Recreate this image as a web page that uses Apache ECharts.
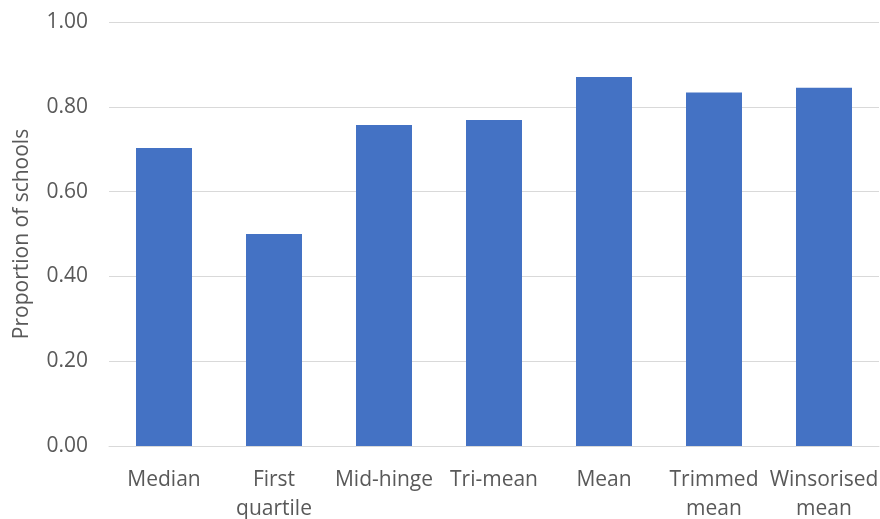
<!DOCTYPE html>
<html>
<head>
<meta charset="utf-8">
<script src="https://cdn.jsdelivr.net/npm/echarts@6/dist/echarts.min.js"></script>
<style>
  html, body { margin: 0; padding: 0; background: #fff; }
  #chart { width: 880px; height: 519px; }
</style>
</head>
<body>
<div id="chart"></div>
<script>
// Estimators compared, with the share of schools for each
const categories = ['Median', 'First\nquartile', 'Mid-hinge', 'Tri-mean', 'Mean', 'Trimmed\nmean', 'Winsorised\nmean'];
const proportions = [0.703, 0.500, 0.757, 0.769, 0.870, 0.834, 0.845];
const yTicks = { min: 0, max: 1, interval: 0.2 };

const fontFamily = '"Open Sans", "Noto Sans", sans-serif';
const textColor = '#595959';
const chart = echarts.init(document.getElementById('chart'), null, { renderer: 'canvas' });

chart.setOption({
  animation: false,
  grid: { left: 109, right: 1, top: 22, bottom: 73, outerBoundsMode: 'none', containLabel: false },
  xAxis: {
    type: 'category',
    data: categories,
    axisTick: { show: false },
    axisLine: { lineStyle: { color: '#d9d9d9', width: 1 } },
    axisLabel: {
      color: textColor,
      fontSize: 21,
      fontFamily: fontFamily,
      lineHeight: 29,
      margin: 20,
      interval: 0,
      hideOverlap: false
    }
  },
  yAxis: {
    type: 'value',
    min: yTicks.min,
    max: yTicks.max,
    interval: yTicks.interval,
    name: 'Proportion of schools',
    nameLocation: 'middle',
    nameRotate: 90,
    nameGap: 76,
    nameTextStyle: { color: textColor, fontSize: 21, fontFamily: fontFamily },
    axisLine: { show: false },
    axisTick: { show: false },
    axisLabel: {
      color: textColor,
      fontSize: 21,
      fontFamily: fontFamily,
      margin: 21,
      formatter: v => v.toFixed(2)
    },
    splitLine: { lineStyle: { color: '#d9d9d9', width: 1 } }
  },
  series: [{
    type: 'bar',
    data: proportions,
    barWidth: 56,
    itemStyle: { color: '#4472c4' }
  }]
});
</script>
</body>
</html>
